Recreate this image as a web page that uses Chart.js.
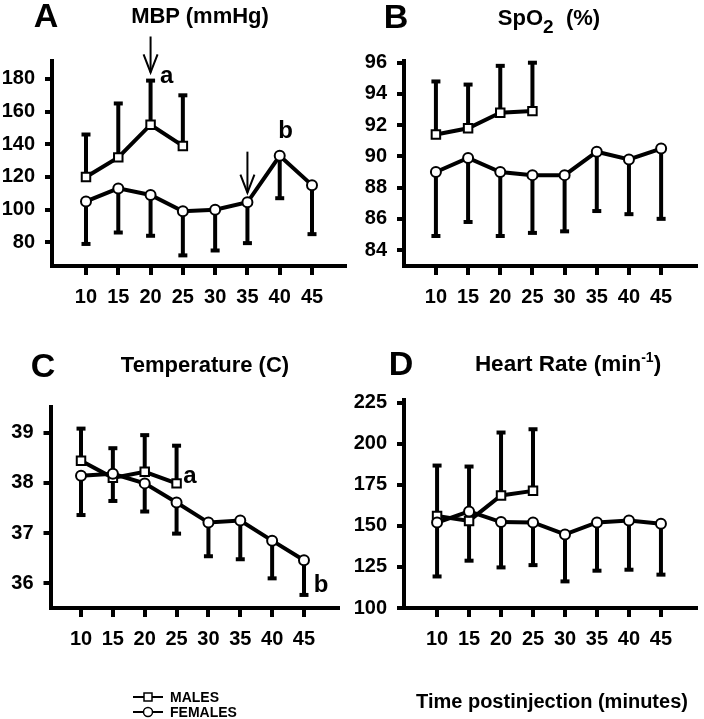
<!DOCTYPE html>
<html><head><meta charset="utf-8">
<script src="https://cdn.jsdelivr.net/npm/chart.js@4/dist/chart.umd.min.js"></script>
<style>
html,body{margin:0;padding:0;background:#fff;}
#wrap{position:relative;width:704px;height:719px;overflow:hidden;font-family:"Liberation Sans",Arial,sans-serif;font-weight:bold;color:#000;}
canvas{position:absolute;left:0;top:0;}
.t{position:absolute;white-space:nowrap;line-height:1;transform:translate(-50%,-50%);}
.l{position:absolute;white-space:nowrap;line-height:1;transform:translate(0,-50%);}
.sub{position:relative;top:8px;font-size:19px;}
.sup{position:relative;top:-9px;font-size:14px;}
</style></head>
<body><div id="wrap">
<canvas id="cA" width="704" height="719"></canvas>
<canvas id="cB" width="704" height="719"></canvas>
<canvas id="cC" width="704" height="719"></canvas>
<canvas id="cD" width="704" height="719"></canvas>
<div class="t" style="left:46px;top:15px;font-size:34px">A</div>
<div class="t" style="left:396px;top:16px;font-size:34px">B</div>
<div class="t" style="left:43px;top:365px;font-size:34px">C</div>
<div class="t" style="left:401px;top:363px;font-size:34px">D</div>
<div class="t" style="left:200px;top:16px;font-size:22px">MBP (mmHg)</div>
<div class="t" style="left:549px;top:18px;font-size:22px">SpO<span class="sub">2</span>&nbsp; (%)</div>
<div class="t" style="left:205px;top:365px;font-size:22px">Temperature (C)</div>
<div class="t" style="left:568px;top:364px;font-size:22.5px">Heart Rate (min<span class="sup">-1</span>)</div>
<div class="t" style="left:552px;top:701px;font-size:20px">Time postinjection (minutes)</div>
<svg style="position:absolute;left:130px;top:688px" width="40" height="32">
  <line x1="3" y1="9" x2="33" y2="9" stroke="#000" stroke-width="2"/>
  <rect x="14" y="5" width="8" height="8" fill="#fff" stroke="#000" stroke-width="1.5"/>
  <line x1="3" y1="24" x2="33" y2="24" stroke="#000" stroke-width="2"/>
  <circle cx="18" cy="24" r="4.5" fill="#fff" stroke="#000" stroke-width="1.5"/>
</svg>
<div class="l" style="left:170px;top:697px;font-size:14px">MALES</div>
<div class="l" style="left:170px;top:712px;font-size:14px">FEMALES</div>
</div>
<script>
// ---- data ----
const minutes = [10, 15, 20, 25, 30, 35, 40, 45];
const maleMinutes = [10, 15, 20, 25];

// A: MBP (mmHg)
const mbpTicks = [80, 100, 120, 140, 160, 180];
const mbpMale = [120, 132, 152, 139];
const mbpMaleUpper = [146, 165, 179, 170];
const mbpFemale = [105, 113, 109, 99, 100, 104.5, 133, 115];
const mbpFemaleLower = [79, 86, 84, 72, 75, 79.5, 107, 85];
const mbpArrows = [{x: 20, from: 206, to: 184}, {x: 35, from: 135.5, to: 110.4}];
const mbpLetters = [{text: 'a', x: 22.5, y: 177.4}, {text: 'b', x: 40.9, y: 143.7}];

// B: SpO2 (%)
const spoTicks = [84, 86, 88, 90, 92, 94, 96];
const spoMale = [91.4, 91.8, 92.8, 92.9];
const spoMaleUpper = [94.8, 94.6, 95.8, 96.0];
const spoFemale = [89.0, 89.9, 89.0, 88.8, 88.8, 90.3, 89.8, 90.5];
const spoFemaleLower = [84.9, 85.8, 84.9, 85.1, 85.2, 86.5, 86.3, 86.0];

// C: Temperature (C)
const tempTicks = [36, 37, 38, 39];
const tempMale = [38.44, 38.1, 38.22, 37.99];
const tempMaleUpper = [39.08, 38.69, 38.95, 38.74];
const tempFemale = [38.14, 38.18, 37.99, 37.61, 37.21, 37.25, 36.85, 36.46];
const tempFemaleLower = [37.36, 37.64, 37.43, 36.99, 36.54, 36.48, 36.1, 35.77];
const tempLetters = [{text: 'a', x: 27.1, y: 38.0}, {text: 'b', x: 47.7, y: 35.83}];

// D: Heart rate (min-1)
const hrTicks = [100, 125, 150, 175, 200, 225];
const hrMale = [156, 153, 168.5, 171.3];
const hrMaleUpper = [186.7, 186.1, 206.8, 208.8];
const hrFemale = [152, 158.8, 152.3, 152.1, 144.8, 152.1, 153.3, 151.3];
const hrFemaleLower = [119.2, 128.8, 124.7, 126.1, 116.2, 122.7, 123.3, 120.3];

// ---- drawing ----
const FONT = '"Liberation Sans", Arial, sans-serif';
const W = 704, H = 719, YW = 50, XH = 45;

function pts(xs, ys) { return ys.map((v, i) => ({x: xs[i], y: v})); }

function makePanel(id, c) {
  const plugin = {
    id: 'extras_' + id,
    beforeDatasetsDraw(chart) {
      const {ctx, scales: {x, y}} = chart;
      ctx.save();
      ctx.strokeStyle = '#000';
      ctx.lineWidth = 4;
      const groups = [[maleMinutes, c.male, c.maleEnd], [minutes, c.female, c.femaleEnd]];
      groups.forEach(([xs, ys, ends]) => {
        xs.forEach((xv, i) => {
          const px = x.getPixelForValue(xv);
          const p0 = y.getPixelForValue(ys[i]);
          const p1 = y.getPixelForValue(ends[i]);
          ctx.beginPath(); ctx.moveTo(px, p0); ctx.lineTo(px, p1); ctx.stroke();
          ctx.beginPath(); ctx.moveTo(px - 4.5, p1); ctx.lineTo(px + 4.5, p1); ctx.stroke();
        });
      });
      ctx.restore();
    },
    afterDatasetsDraw(chart) {
      const {ctx, scales: {x, y}} = chart;
      ctx.save();
      ctx.strokeStyle = '#000';
      ctx.fillStyle = '#000';
      ctx.lineWidth = 2;
      (c.arrows || []).forEach(a => {
        const px = x.getPixelForValue(a.x);
        const p0 = y.getPixelForValue(a.from);
        const p1 = y.getPixelForValue(a.to);
        ctx.beginPath(); ctx.moveTo(px, p0); ctx.lineTo(px, p1); ctx.stroke();
        ctx.beginPath(); ctx.moveTo(px - 7, p1 - 18); ctx.lineTo(px, p1); ctx.lineTo(px + 7, p1 - 18); ctx.stroke();
      });
      ctx.font = 'bold 24px ' + FONT;
      ctx.textAlign = 'center';
      ctx.textBaseline = 'alphabetic';
      (c.letters || []).forEach(l => {
        ctx.fillText(l.text, x.getPixelForValue(l.x), y.getPixelForValue(l.y));
      });
      ctx.restore();
    }
  };
  const tickFont = {family: FONT, size: 20, weight: 'bold'};
  new Chart(document.getElementById(id), {
    type: 'line',
    data: {
      datasets: [
        {label: 'FEMALES', data: pts(minutes, c.female), borderColor: '#000', borderWidth: 4,
         pointStyle: 'circle', pointRadius: 5, pointBorderWidth: 2, pointBackgroundColor: '#fff',
         pointBorderColor: '#000', tension: 0, clip: false},
        {label: 'MALES', data: pts(maleMinutes, c.male), borderColor: '#000', borderWidth: 4,
         pointStyle: 'rect', pointRadius: 6, pointBorderWidth: 2, pointBackgroundColor: '#fff',
         pointBorderColor: '#000', tension: 0, clip: false}
      ]
    },
    options: {
      responsive: false, animation: false, devicePixelRatio: 1,
      layout: {padding: {left: c.left - YW, top: c.top, right: W - c.right, bottom: H - c.bottom - XH}},
      plugins: {legend: {display: false}, tooltip: {enabled: false}},
      scales: {
        x: {
          type: 'linear', min: c.xmin, max: c.xmax,
          afterBuildTicks: s => { s.ticks = minutes.map(v => ({value: v})); },
          afterFit: s => { s.height = XH; s.paddingLeft = 0; s.paddingRight = 0; s.paddingTop = 0; s.paddingBottom = 0; },
          border: {display: true, width: 4, color: '#000'},
          grid: {drawOnChartArea: false, drawTicks: true, tickLength: 9, tickWidth: 4, tickColor: '#000', color: '#000', lineWidth: 4},
          ticks: {color: '#000', font: tickFont, padding: 10, maxRotation: 0, autoSkip: false}
        },
        y: {
          type: 'linear', min: c.ymin, max: c.ymax,
          afterBuildTicks: s => { s.ticks = c.ticks.map(v => ({value: v})); },
          afterFit: s => { s.width = YW; s.paddingLeft = 0; s.paddingRight = 0; s.paddingTop = 0; s.paddingBottom = 0; },
          border: {display: true, width: 4, color: '#000'},
          grid: {drawOnChartArea: false, drawTicks: true, tickLength: 7, tickWidth: 4, tickColor: '#000', color: '#000', lineWidth: 4},
          ticks: {color: '#000', font: tickFont, padding: 10, autoSkip: false}
        }
      }
    },
    plugins: [plugin]
  });
}

makePanel('cA', {left: 52, top: 61, right: 345, bottom: 266, xmin: 4.735, xmax: 50.11, ymin: 65.5, ymax: 191,
  ticks: mbpTicks, male: mbpMale, maleEnd: mbpMaleUpper, female: mbpFemale, femaleEnd: mbpFemaleLower,
  arrows: mbpArrows, letters: mbpLetters});
makePanel('cB', {left: 404, top: 61, right: 697, bottom: 266, xmin: 5.04, xmax: 50.42, ymin: 82.98, ymax: 96.11,
  ticks: spoTicks, male: spoMale, maleEnd: spoMaleUpper, female: spoFemale, femaleEnd: spoFemaleLower});
makePanel('cC', {left: 50.5, top: 407, right: 338, bottom: 608, xmin: 5.21, xmax: 50.34, ymin: 35.51, ymax: 39.51,
  ticks: tempTicks, male: tempMale, maleEnd: tempMaleUpper, female: tempFemale, femaleEnd: tempFemaleLower,
  letters: tempLetters});
makePanel('cD', {left: 404, top: 400, right: 704, bottom: 608, xmin: 4.83, xmax: 50.48, ymin: 100, ymax: 226.6,
  ticks: hrTicks, male: hrMale, maleEnd: hrMaleUpper, female: hrFemale, femaleEnd: hrFemaleLower});
</script>
</body></html>
